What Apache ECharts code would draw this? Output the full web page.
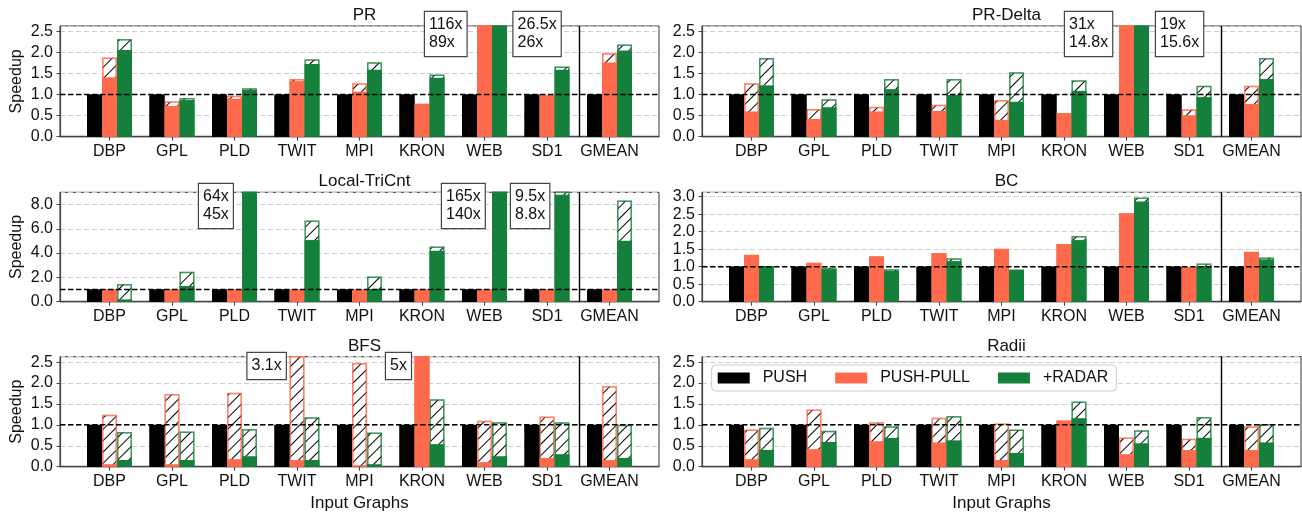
<!DOCTYPE html>
<html><head><meta charset="utf-8">
<script src="https://cdn.jsdelivr.net/npm/echarts@6/dist/echarts.min.js"></script>
<style>html,body{margin:0;padding:0;background:#fff}#c{width:1302px;height:517px}</style>
</head><body><div id="c"></div>
<script>
const categories = ['DBP','GPL','PLD','TWIT','MPI','KRON','WEB','SD1','GMEAN'];
const pushValues = [1,1,1,1,1,1,1,1,1];

// PR
const prPullSolid   = [1.41, 0.73, 0.90, 1.32, 1.07, 0.78, 89, 0.98, 1.76];
const prPullTotal   = [1.88, 0.84, 0.97, 1.37, 1.27, 0.78, 116, 0.99, 1.98];
const prRadarSolid  = [2.06, 0.87, 1.11, 1.73, 1.59, 1.40, 26, 1.59, 2.05];
const prRadarTotal  = [2.32, 0.92, 1.15, 1.84, 1.77, 1.48, 26.5, 1.67, 2.19];
// PR-Delta
const prdPullSolid  = [0.60, 0.42, 0.60, 0.61, 0.40, 0.56, 14.8, 0.51, 0.78];
const prdPullTotal  = [1.27, 0.66, 0.71, 0.76, 0.87, 0.56, 31, 0.65, 1.21];
const prdRadarSolid = [1.22, 0.70, 1.13, 0.99, 0.83, 1.09, 15.6, 0.94, 1.37];
const prdRadarTotal = [1.87, 0.89, 1.37, 1.37, 1.53, 1.34, 19, 1.21, 1.87];
// Local-TriCnt
const tcPullSolid   = [1, 1, 1, 1, 1, 1, 1, 1, 1];
const tcPullTotal   = [1, 1, 1, 1, 1, 1, 1, 1, 1];
const tcRadarSolid  = [0.19, 1.29, 45, 5.07, 1.05, 4.19, 140, 8.8, 5.01];
const tcRadarTotal  = [1.45, 2.47, 64, 6.68, 2.08, 4.55, 165, 9.5, 8.33];
// BC
const bcPullSolid   = [1.33, 1.10, 1.29, 1.38, 1.50, 1.64, 2.52, 0.98, 1.42];
const bcPullTotal   = [1.34, 1.11, 1.30, 1.39, 1.51, 1.65, 2.53, 0.99, 1.43];
const bcRadarSolid  = [1.00, 0.93, 0.88, 1.16, 0.90, 1.76, 2.86, 1.02, 1.21];
const bcRadarTotal  = [1.02, 0.97, 0.93, 1.24, 0.92, 1.88, 2.98, 1.09, 1.26];
// BFS
const bfsPullSolid  = [0.06, 0.06, 0.18, 0.16, 0.02, 5.0, 0.11, 0.21, 0.16];
const bfsPullTotal  = [1.24, 1.74, 1.77, 3.1, 2.48, 5.0, 1.10, 1.20, 1.93];
const bfsRadarSolid = [0.16, 0.16, 0.25, 0.16, 0.06, 0.54, 0.25, 0.30, 0.21];
const bfsRadarTotal = [0.83, 0.84, 0.90, 1.18, 0.82, 1.61, 1.06, 1.06, 1.00];
// Radii
const raPullSolid   = [0.18, 0.42, 0.61, 0.58, 0.16, 1.09, 0.30, 0.40, 0.40];
const raPullTotal   = [0.89, 1.37, 1.06, 1.17, 1.03, 1.11, 0.70, 0.67, 0.97];
const raRadarSolid  = [0.40, 0.59, 0.69, 0.63, 0.33, 1.16, 0.56, 0.69, 0.58];
const raRadarTotal  = [0.93, 0.86, 0.97, 1.21, 0.89, 1.56, 0.87, 1.19, 1.02];

const seriesNames = ['PUSH', 'PUSH-PULL', '+RADAR'];
const baselineValue = 1;
const separatorAt = 7.52;

const FONT = 'Liberation Sans';
const C_PUSH = '#000000', C_PULL = '#ff6a4d', C_RADAR = '#15803b';
const B_PULL = 'rgba(255,106,77,0.6)', B_RADAR = 'rgba(21,128,59,0.55)';
const idxs = categories.map((c, i) => i);
const XMIN = -0.792, XMAX = 8.792;
const colLeft = [60, 702], PW = 599;
const rows = [{top: 26, h: 110.7}, {top: 192.3, h: 109.4}, {top: 356.7, h: 110}];

const panels = [
  {title: 'PR', col: 0, row: 0, ymax: 2.63, yint: 0.5, ps: prPullSolid, pt: prPullTotal, rs: prRadarSolid, rt: prRadarTotal},
  {title: 'PR-Delta', col: 1, row: 0, ymax: 2.63, yint: 0.5, ps: prdPullSolid, pt: prdPullTotal, rs: prdRadarSolid, rt: prdRadarTotal},
  {title: 'Local-TriCnt', col: 0, row: 1, ymax: 9, yint: 2, ps: tcPullSolid, pt: tcPullTotal, rs: tcRadarSolid, rt: tcRadarTotal},
  {title: 'BC', col: 1, row: 1, ymax: 3.125, yint: 0.5, ps: bcPullSolid, pt: bcPullTotal, rs: bcRadarSolid, rt: bcRadarTotal},
  {title: 'BFS', col: 0, row: 2, ymax: 2.63, yint: 0.5, ps: bfsPullSolid, pt: bfsPullTotal, rs: bfsRadarSolid, rt: bfsRadarTotal},
  {title: 'Radii', col: 1, row: 2, ymax: 2.63, yint: 0.5, ps: raPullSolid, pt: raPullTotal, rs: raRadarSolid, rt: raRadarTotal}
];

const hatch = {symbol: 'rect', symbolSize: 1, color: '#000', dashArrayX: [1, 0], dashArrayY: [1, 7], rotation: -Math.PI / 4};

const grid = [], xAxis = [], yAxis = [], series = [], title = [];
panels.forEach((p, k) => {
  const r = rows[p.row];
  const left = colLeft[p.col];
  grid.push({left: left, top: r.top, width: PW, height: r.h, show: true, borderColor: '#333', borderWidth: 1, backgroundColor: 'transparent'});
  title.push({text: p.title, left: left + PW / 2, top: r.top - 24, textAlign: 'center',
    textStyle: {fontFamily: FONT, fontSize: 17, fontWeight: 'normal', color: '#111'}});
  // visible x axis (totals / hatched layer)
  xAxis.push({gridIndex: k, type: 'value', min: XMIN, max: XMAX,
    splitLine: {show: false},
    axisLine: {show: true, onZero: false, lineStyle: {color: '#444', width: 1.3}},
    axisTick: {show: true, customValues: idxs, length: 4, lineStyle: {color: '#444'}},
    axisLabel: {customValues: idxs, formatter: v => categories[Math.round(v)], fontFamily: FONT, fontSize: 16, color: '#111', margin: 7},
    name: p.row === 2 ? 'Input Graphs' : '', nameLocation: 'middle', nameGap: 28,
    nameTextStyle: {fontFamily: FONT, fontSize: 17, color: '#111'}});
  // hidden twin x axis (solid layer), same scale
  xAxis.push({gridIndex: k, type: 'value', min: XMIN, max: XMAX, show: false, position: 'bottom'});
  yAxis.push({gridIndex: k, type: 'value', min: 0, max: p.ymax, interval: p.yint,
    splitLine: {show: true, lineStyle: {color: '#cfcfcf', type: [5, 3], width: 1}},
    axisLine: {show: true, onZero: false, lineStyle: {color: '#444', width: 1.2}},
    axisTick: {show: true, length: 3.5, lineStyle: {color: '#444'}},
    axisLabel: {formatter: v => v.toFixed(1), showMaxLabel: false, fontFamily: FONT, fontSize: 16, color: '#111', margin: 7},
    name: p.col === 0 ? 'Speedup' : '', nameLocation: 'middle', nameGap: 35,
    nameTextStyle: {fontFamily: FONT, fontSize: 16, color: '#111'}});
  const pair = arr => arr.map((v, i) => [i, v]);
  const xa = 2 * k, xb = 2 * k + 1;
  const bar = (xi) => ({type: 'bar', xAxisIndex: xi, yAxisIndex: k, barWidth: 15, barGap: '0%'});
  // layer A: PUSH + hatched totals
  series.push(Object.assign(bar(xa), {name: seriesNames[0], data: pair(pushValues), itemStyle: {color: C_PUSH}}));
  series.push(Object.assign(bar(xa), {name: seriesNames[1] + ' total', data: pair(p.pt),
    itemStyle: {color: '#fff', borderColor: B_PULL, borderWidth: 1.5, decal: hatch}}));
  series.push(Object.assign(bar(xa), {name: seriesNames[2] + ' total', data: pair(p.rt),
    itemStyle: {color: '#fff', borderColor: B_RADAR, borderWidth: 1.5, decal: hatch}}));
  // layer B: PUSH + solid parts on top
  series.push(Object.assign(bar(xb), {name: seriesNames[0], data: pair(pushValues), itemStyle: {color: C_PUSH}}));
  series.push(Object.assign(bar(xb), {name: seriesNames[1], data: pair(p.ps), itemStyle: {color: C_PULL}}));
  series.push(Object.assign(bar(xb), {name: seriesNames[2], data: pair(p.rs), itemStyle: {color: C_RADAR}}));
  // reference line at 1.0 and GMEAN separator, drawn through the axes
  series.push({type: 'line', xAxisIndex: xa, yAxisIndex: k, name: 'baseline', silent: true, symbol: 'none', z: 6,
    data: [[XMIN, baselineValue], [XMAX, baselineValue]],
    lineStyle: {color: '#000', type: [5.5, 2.5], width: 1.5}});
  series.push({type: 'line', xAxisIndex: xa, yAxisIndex: k, name: 'separator', silent: true, symbol: 'none', z: 6,
    data: [[separatorAt, 0], [separatorAt, p.ymax]],
    lineStyle: {color: '#000', type: 'solid', width: 1.4}});
});

// annotation boxes for clipped bars (text built from the data)
const notes = [
  {x: 425, y: 12, text: prPullTotal[6] + 'x\n' + prPullSolid[6] + 'x'},
  {x: 513.5, y: 12, text: prRadarTotal[6] + 'x\n' + prRadarSolid[6] + 'x'},
  {x: 1065, y: 12, text: prdPullTotal[6] + 'x\n' + prdPullSolid[6] + 'x'},
  {x: 1156, y: 12, text: prdRadarTotal[6] + 'x\n' + prdRadarSolid[6] + 'x'},
  {x: 199, y: 184, text: tcRadarTotal[2] + 'x\n' + tcRadarSolid[2] + 'x'},
  {x: 442, y: 184, text: tcRadarTotal[6] + 'x\n' + tcRadarSolid[6] + 'x'},
  {x: 511, y: 184, text: tcRadarTotal[7] + 'x\n' + tcRadarSolid[7] + 'x'},
  {x: 247.5, y: 353, text: bfsPullTotal[3] + 'x'},
  {x: 386, y: 353, text: bfsPullTotal[5] + 'x'}
];
const graphic = notes.map(n => ({type: 'text', x: n.x, y: n.y, z: 100,
  style: {text: n.text, font: '16px "' + FONT + '"', fill: '#111', lineHeight: 18,
    backgroundColor: '#fff', borderColor: '#444', borderWidth: 1.2, padding: [4, 4, 4, 4]}}));

const chart = echarts.init(document.getElementById('c'), null, {renderer: 'canvas'});
chart.setOption({
  animation: false,
  backgroundColor: '#fff',
  title: title,
  grid: grid, xAxis: xAxis, yAxis: yAxis, series: series,
  legend: {data: seriesNames, left: 711.7, top: 365, orient: 'horizontal', icon: 'rect',
    itemWidth: 32, itemHeight: 11, itemGap: 28, selectedMode: false,
    padding: [5, 8, 5, 6], borderColor: '#ccc', borderWidth: 1, borderRadius: 4,
    backgroundColor: 'rgba(255,255,255,0.85)',
    textStyle: {fontFamily: FONT, fontSize: 16, color: '#111', padding: [0, 0, 0, 8]}},
  graphic: graphic
});
</script></body></html>
